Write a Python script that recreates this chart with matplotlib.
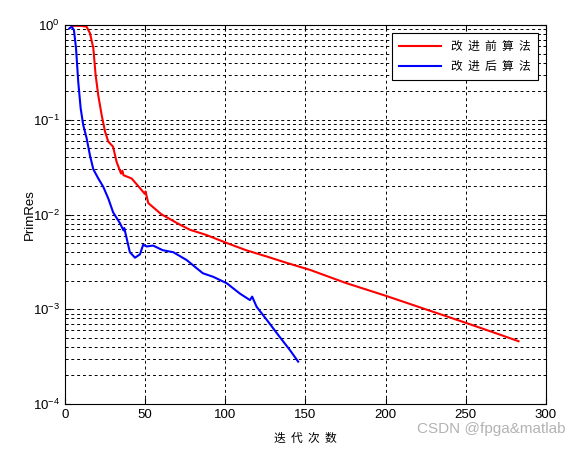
import numpy as np
import matplotlib
matplotlib.use("Agg")
import matplotlib.pyplot as plt
from matplotlib.ticker import LogLocator, NullFormatter

plt.rcParams['font.family'] = ['Liberation Sans', 'Noto Sans CJK SC', 'DejaVu Sans']

# iterations and residuals
iter_before = [5, 10, 13.5, 15.6, 17.7, 19.1, 20.8, 22.9, 25, 27, 30, 32.2, 35, 35.8, 36.5,
               41.6, 46.8, 49.8, 50.3, 51, 52, 60, 70, 78, 88, 101, 113, 126, 138, 153,
               175, 200, 225, 250, 270, 283]
res_before = [0.98, 0.98, 0.96, 0.82, 0.57, 0.30, 0.18, 0.112, 0.075, 0.059, 0.052, 0.036,
              0.027, 0.029, 0.026, 0.024, 0.019, 0.0165, 0.0175, 0.0155, 0.0132, 0.0101,
              0.0081, 0.0069, 0.0061, 0.0050, 0.0042, 0.0036, 0.0031, 0.0026, 0.0019,
              0.00139, 0.00100, 0.00072, 0.00055, 0.00046]

iter_after = [2.7, 4.2, 5.6, 6.9, 8.3, 9.8, 11.4, 13.5, 15.6, 17.7, 20.8, 23.9, 27, 30.1,
              34.3, 36.5, 37, 38.5, 40.5, 43.7, 46.8, 48.8, 51, 55, 61, 67.6, 76, 86, 92.5,
              101, 109, 115.4, 116.8, 119.6, 126, 134, 140.4, 145.5]
res_after = [0.92, 0.96, 0.885, 0.57, 0.25, 0.132, 0.088, 0.064, 0.042, 0.030, 0.024, 0.0196,
             0.0148, 0.0105, 0.0081, 0.0068, 0.0072, 0.0056, 0.0040, 0.0035, 0.0038, 0.0048,
             0.0046, 0.0047, 0.0042, 0.0040, 0.0033, 0.0024, 0.0022, 0.00188, 0.00147,
             0.00125, 0.00136, 0.00106, 0.00077, 0.00051, 0.00037, 0.00028]

cjk = ['Noto Sans CJK SC', 'DejaVu Sans']

fig = plt.figure(figsize=(5.8, 4.49), dpi=100)
ax = fig.add_axes([0.112, 0.1002, 0.829, 0.8441])

ax.semilogy(iter_before, res_before, color='red', lw=1.5, label='改  进  前  算  法')
ax.semilogy(iter_after, res_after, color='blue', lw=1.5, label='改  进  后  算  法')

ax.set_xlim(0, 300)
ax.set_ylim(1e-4, 1)
ax.set_xticks(range(0, 301, 50))
ax.yaxis.set_major_locator(LogLocator(base=10, numticks=10))
ax.yaxis.set_minor_locator(LogLocator(base=10, subs=np.arange(2, 10), numticks=20))
ax.yaxis.set_minor_formatter(NullFormatter())

ax.tick_params(which='both', direction='in', top=True, right=True, labelsize=9.5)
ax.tick_params(which='major', length=4)
ax.tick_params(which='minor', length=2)

grid_style = dict(color='black', linestyle=(0, (3, 3)), linewidth=0.7)
ax.grid(True, axis='x', which='major', **grid_style)
ax.grid(True, axis='y', which='both', **grid_style)

ax.set_xlabel('迭  代  次  数', fontsize=8.5, family=cjk, labelpad=8)
ax.set_ylabel('PrimRes', fontsize=9.5, labelpad=-2)

leg = ax.legend(loc='upper right', fancybox=False, framealpha=1, edgecolor='black',
                prop={'family': cjk, 'size': 8.5}, handlelength=3.6,
                borderaxespad=0.7, labelspacing=0.55, borderpad=0.6)
leg.get_frame().set_linewidth(0.8)

fig.text(0.975, 0.03, 'CSDN @fpga&matlab', ha='right', va='bottom', fontsize=11,
         color='#a0a0a0', alpha=0.8)

fig.savefig('out.png', dpi=100)
